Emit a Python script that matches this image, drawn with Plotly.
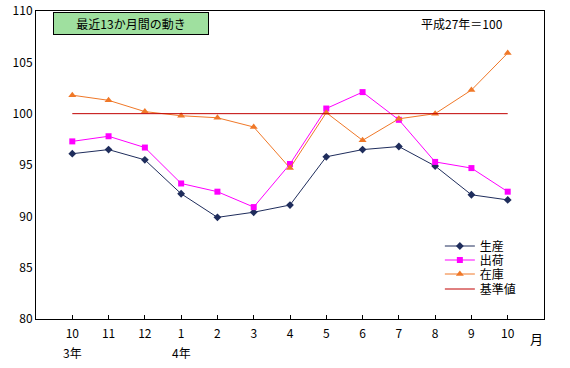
import plotly.graph_objects as go

months = ["10", "11", "12", "1", "2", "3", "4", "5", "6", "7", "8", "9", "10"]
production = [96.1, 96.5, 95.5, 92.2, 89.9, 90.4, 91.1, 95.8, 96.5, 96.8, 94.9, 92.1, 91.6]
shipments = [97.3, 97.8, 96.7, 93.2, 92.4, 90.9, 95.1, 100.5, 102.1, 99.4, 95.3, 94.7, 92.4]
inventory = [101.8, 101.3, 100.2, 99.8, 99.6, 98.7, 94.7, 100.1, 97.4, 99.5, 100.0, 102.3, 105.9]
baseline = [100] * 13
year_labels = [(0, "3年"), (3, "4年")]
yticks = [80, 85, 90, 95, 100, 105, 110]

FONT = "Noto Sans CJK JP"
x = list(range(len(months)))

series = [
    ("生産", production, "#1f2d5c", "diamond", 6, "lines+markers"),
    ("出荷", shipments, "#ff00ff", "square", 6, "lines+markers"),
    ("在庫", inventory, "#f07828", "triangle-up", 7, "lines+markers"),
    ("基準値", baseline, "#c00000", "circle", 1, "lines"),
]

W, H = 570, 368
L, R, T, B = 36, 26, 11, 49
PLOT_H = H - T - B

fig = go.Figure()
legend_names = ["legend", "legend2", "legend3", "legend4"]
legend_y_px = [246, 260, 274, 289]
legend_layout = {}
for i, (name, vals, col, sym, sz, mode) in enumerate(series):
    fig.add_trace(go.Scatter(x=x, y=vals, name=name, mode=mode,
                             line=dict(color=col, width=1),
                             marker=dict(symbol=sym, size=sz, color=col),
                             legend=legend_names[i]))
    ypaper = (H - B - legend_y_px[i]) / PLOT_H
    legend_layout[legend_names[i]] = dict(
        x=0.795, y=ypaper, xanchor="left", yanchor="middle",
        bgcolor="rgba(0,0,0,0)", font=dict(size=12, family=FONT, color="black"),
        itemwidth=30, borderwidth=0)

annotations = [
    dict(text="最近13か月間の動き", xref="paper", yref="paper", x=0.187, y=0.959,
         xanchor="center", yanchor="middle",
         showarrow=False, font=dict(size=12, color="black", family=FONT),
         bgcolor="#9fe09f", bordercolor="black", borderwidth=1, width=152, height=19,
         borderpad=1),
    dict(text="平成27年＝100", xref="paper", yref="paper", x=0.839, y=0.958,
         xanchor="center", yanchor="middle",
         showarrow=False, font=dict(size=12, color="black", family=FONT)),
    dict(text="月", xref="paper", yref="paper", x=0.986, y=-0.062,
         xanchor="center", yanchor="middle",
         showarrow=False, font=dict(size=13, color="black", family=FONT)),
]
for xi, t in year_labels:
    annotations.append(dict(text=t, x=xi, xref="x", yref="paper", y=-0.11,
                            xanchor="center", yanchor="middle",
                            showarrow=False, font=dict(size=12, color="black", family=FONT)))

fig.update_layout(
    width=W, height=H,
    margin=dict(l=L, r=R, t=T, b=B, autoexpand=False),
    paper_bgcolor="white", plot_bgcolor="white",
    font=dict(family=FONT, size=12, color="black"),
    showlegend=True,
    annotations=annotations,
    **legend_layout,
)
fig.update_xaxes(range=[-1, 13], tickvals=x, ticktext=months, showgrid=False,
                 zeroline=False, showline=True, linecolor="black", linewidth=1,
                 mirror=True, ticks="inside", ticklen=4, tickcolor="black",
                 tickfont=dict(size=12, family=FONT), automargin=False,
                 ticklabelstandoff=4)
fig.update_yaxes(range=[80, 110], tickvals=yticks, showgrid=False, zeroline=False,
                 showline=True, linecolor="black", linewidth=1, mirror=True,
                 ticks="", tickfont=dict(size=12, family=FONT), automargin=False)

fig.write_html("out.html", config={"displayModeBar": False},
               post_script="document.body.style.margin='0';")
